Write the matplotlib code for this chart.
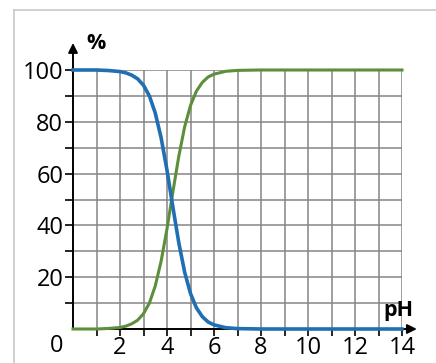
import numpy as np
import matplotlib
matplotlib.use('Agg')
import matplotlib.pyplot as plt
from matplotlib.lines import Line2D

# ── data ──
ph = [0, 1, 1.5, 2, 2.25, 2.5, 2.75, 3, 3.25, 3.5, 3.75, 4, 4.25, 4.5,
      4.75, 5, 5.25, 5.5, 5.75, 6, 6.5, 7, 8, 10, 12, 14]
acid = [100, 100, 99.8, 99.4, 98.9, 98.0, 96.6, 94.1, 90.0, 83.4, 73.8, 61.3,
        47.1, 33.4, 22.0, 13.7, 8.2, 4.8, 2.7, 1.6, 0.5, 0.15, 0, 0, 0, 0]
base = [100 - a for a in acid]

x_ticks = [2, 4, 6, 8, 10, 12, 14]
y_ticks = [20, 40, 60, 80, 100]

blue = '#1f6fb2'
green = '#5b8f3c'
grid_col = '#858585'
font = 'Open Sans'

W, H = 436, 363
fig = plt.figure(figsize=(W / 100, H / 100), dpi=100)
# axes box: pH 0..14 -> px 73..402, % 0..100 -> px 329..70
ax = fig.add_axes([73 / W, (H - 329) / H, (402 - 73) / W, (329 - 70) / H])
ax.set_xlim(0, 14)
ax.set_ylim(0, 100)

# grid every pH unit and every 10 %
ax.set_xticks(x_ticks)
ax.set_xticks(np.arange(1, 15, 1), minor=True)
ax.set_yticks(y_ticks)
ax.set_yticks(np.arange(10, 101, 10), minor=True)
ax.grid(True, which='both', color=grid_col, linewidth=1.1)
ax.set_axisbelow(True)

ax.set_xticklabels([str(t) for t in x_ticks], fontsize=17, family=font)
ax.set_yticklabels([str(t) for t in y_ticks], fontsize=17, family=font)
ax.tick_params(axis='x', which='both', direction='out', length=5, width=1.2,
               pad=0, color='black')
ax.tick_params(axis='y', which='both', direction='out', length=6, width=1.2,
               pad=1, color='black')

for s in ['top', 'right']:
    ax.spines[s].set_visible(False)
for s in ['left', 'bottom']:
    ax.spines[s].set_linewidth(1.4)

# axis arrows
ax.annotate('', xy=(14.75, 0), xytext=(13.9, 0), annotation_clip=False,
            arrowprops=dict(arrowstyle='-|>', color='black', lw=1.4,
                            mutation_scale=14))
ax.annotate('', xy=(0, 111.5), xytext=(0, 99), annotation_clip=False,
            arrowprops=dict(arrowstyle='-|>', color='black', lw=1.4,
                            mutation_scale=14))

# curves
ax.plot(ph, base, color=green, linewidth=2.2, clip_on=False, zorder=3)
ax.plot(ph, acid, color=blue, linewidth=2.6, clip_on=False, zorder=4)

ax.text(-0.7, -2.0, '0', fontsize=17, family=font, ha='center', va='top')
ax.text(0.55, 106, '%', fontsize=15.5, fontweight='bold', family=font,
        ha='left', va='bottom')
ax.text(14.5, 3, 'pH', fontsize=15.5, fontweight='bold', family=font,
        ha='right', va='bottom')

# light frame around the picture
fig.add_artist(Line2D([14 / W, 1], [1 - 10 / H, 1 - 10 / H],
                      color='#c8c8c8', linewidth=1.2))
fig.add_artist(Line2D([14 / W, 14 / W], [0, 1 - 10 / H],
                      color='#c8c8c8', linewidth=1.2))

fig.savefig('out.png', dpi=100)
plt.close(fig)
